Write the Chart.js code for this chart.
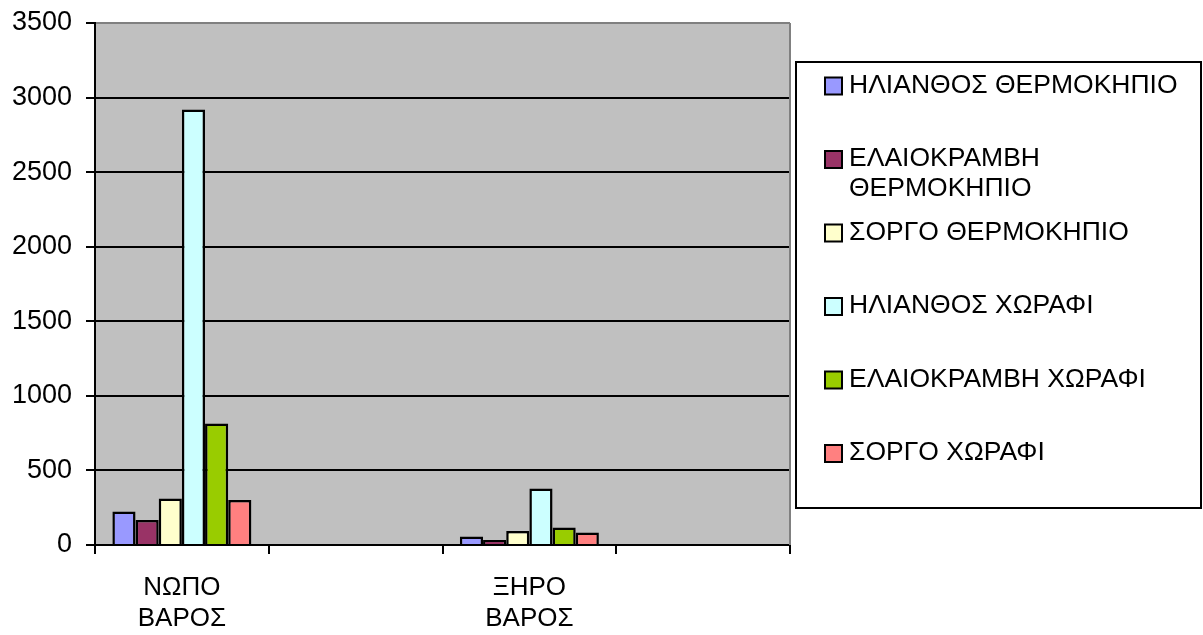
<!DOCTYPE html>
<html>
<head>
<meta charset="utf-8">
<script src="https://cdn.jsdelivr.net/npm/chart.js@4/dist/chart.umd.min.js"></script>
<style>
  html, body { margin: 0; padding: 0; background: #fff; }
  canvas { display: block; }
</style>
</head>
<body>
<canvas id="c" width="1203" height="635"></canvas>
<script>
// Categories (two empty slots keep the original spacing between groups)
const categories = [['ΝΩΠΟ', 'ΒΑΡΟΣ'], '', ['ΞΗΡΟ', 'ΒΑΡΟΣ'], ''];

// Series values per category
const sunflowerGreenhouse = [225, null, 57, null];
const rapeseedGreenhouse  = [168, null, 34, null];
const sorghumGreenhouse   = [312, null, 94, null];
const sunflowerField      = [2920, null, 379, null];
const rapeseedField       = [815, null, 117, null];
const sorghumField        = [302, null, 84, null];

const seriesLabels = [
  'ΗΛΙΑΝΘΟΣ ΘΕΡΜΟΚΗΠΙΟ',
  'ΕΛΑΙΟΚΡΑΜΒΗ ΘΕΡΜΟΚΗΠΙΟ',
  'ΣΟΡΓΟ ΘΕΡΜΟΚΗΠΙΟ',
  'ΗΛΙΑΝΘΟΣ ΧΩΡΑΦΙ',
  'ΕΛΑΙΟΚΡΑΜΒΗ ΧΩΡΑΦΙ',
  'ΣΟΡΓΟ ΧΩΡΑΦΙ'
];
const seriesColors = ['#9999FF', '#993366', '#FFFFCC', '#CCFFFF', '#99CC00', '#FF8080'];
const seriesValues = [sunflowerGreenhouse, rapeseedGreenhouse, sorghumGreenhouse,
                      sunflowerField, rapeseedField, sorghumField];

// Y axis range
const yMin = 0, yMax = 3500, yStep = 500;

const FONT = '"Liberation Sans", Arial, sans-serif';

// Grey plot background plus its grey right edge
const plotBackground = {
  id: 'plotBackground',
  beforeDraw(chart) {
    const { ctx, chartArea: a } = chart;
    ctx.save();
    ctx.fillStyle = '#C0C0C0';
    ctx.fillRect(a.left, a.top, a.right - a.left, a.bottom - a.top);
    ctx.restore();
  },
  beforeDatasetsDraw(chart) {
    const { ctx, chartArea: a } = chart;
    ctx.save();
    ctx.strokeStyle = '#808080';
    ctx.lineWidth = 2;
    ctx.beginPath();
    ctx.moveTo(a.right, a.top);
    ctx.lineTo(a.right, a.bottom);
    ctx.stroke();
    ctx.restore();
  }
};

// Boxed legend on the right, with word wrapping of long labels
const boxedLegend = {
  id: 'boxedLegend',
  afterDraw(chart) {
    const { ctx } = chart;
    const box = { left: 796, top: 62, right: 1201, bottom: 508 };
    ctx.save();
    ctx.fillStyle = '#fff';
    ctx.fillRect(box.left, box.top, box.right - box.left, box.bottom - box.top);
    ctx.strokeStyle = '#000';
    ctx.lineWidth = 2;
    ctx.strokeRect(box.left, box.top, box.right - box.left, box.bottom - box.top);

    const fontSize = 25, stretch = 1.06;
    ctx.font = fontSize + 'px ' + FONT;
    ctx.textBaseline = 'middle';
    ctx.textAlign = 'left';
    const sq = 17, sqX = 825, textX = 849, firstY = 86, step = 73.5, lineH = 29.5;
    const maxW = (box.right - textX - 10) / stretch;

    chart.data.datasets.forEach((ds, i) => {
      const cy = firstY + i * step;
      ctx.fillStyle = ds.backgroundColor;
      ctx.fillRect(sqX, cy - sq / 2, sq, sq);
      ctx.strokeStyle = '#000';
      ctx.lineWidth = 2;
      ctx.strokeRect(sqX, cy - sq / 2, sq, sq);

      const words = ds.label.split(' ');
      const lines = [];
      let cur = '';
      words.forEach(w => {
        const t = cur ? cur + ' ' + w : w;
        if (cur && ctx.measureText(t).width > maxW) { lines.push(cur); cur = w; }
        else cur = t;
      });
      if (cur) lines.push(cur);
      ctx.fillStyle = '#000';
      lines.forEach((ln, k) => {
        ctx.save();
        ctx.translate(textX, cy + k * lineH);
        ctx.scale(stretch, 1);
        ctx.fillText(ln, 0, 0);
        ctx.restore();
      });
    });
    ctx.restore();
  }
};

new Chart(document.getElementById('c'), {
  type: 'bar',
  data: {
    labels: categories,
    datasets: seriesValues.map((vals, i) => ({
      label: seriesLabels[i],
      data: vals,
      backgroundColor: seriesColors[i],
      borderColor: '#000',
      borderWidth: 2.5,
      categoryPercentage: 0.8,
      barPercentage: 1.0
    }))
  },
  options: {
    responsive: false,
    devicePixelRatio: 1,
    animation: false,
    layout: { padding: { left: 0, top: 23, right: 413, bottom: 0 } },
    plugins: {
      legend: { display: false },
      tooltip: { enabled: false },
      title: { display: false }
    },
    scales: {
      x: {
        offset: true,
        grid: {
          offset: true,
          drawOnChartArea: false,
          drawTicks: true,
          tickLength: 9,
          color: '#000',
          lineWidth: 2
        },
        border: { color: '#000', width: 2 },
        ticks: {
          color: '#000',
          padding: 18,
          maxRotation: 0,
          autoSkip: false,
          font: { family: FONT, size: 26, lineHeight: 1.2 }
        },
        afterFit(scale) {
          scale.height = 90;
          scale.paddingLeft = 0;
          scale.paddingRight = 0;
        }
      },
      y: {
        min: yMin,
        max: yMax,
        grid: {
          drawTicks: true,
          tickLength: 9,
          color: ctx => (ctx.tick && ctx.tick.value === yMax ? '#808080' : '#000'),
          tickColor: '#000',
          lineWidth: 2
        },
        border: { color: '#000', width: 2 },
        ticks: {
          stepSize: yStep,
          color: '#000',
          padding: 14,
          font: { family: FONT, size: 27 },
          callback: v => String(v)
        },
        afterFit(scale) {
          scale.width = 95;
          scale.paddingTop = 0;
          scale.paddingBottom = 0;
        }
      }
    }
  },
  plugins: [plotBackground, boxedLegend]
});
</script>
</body>
</html>
